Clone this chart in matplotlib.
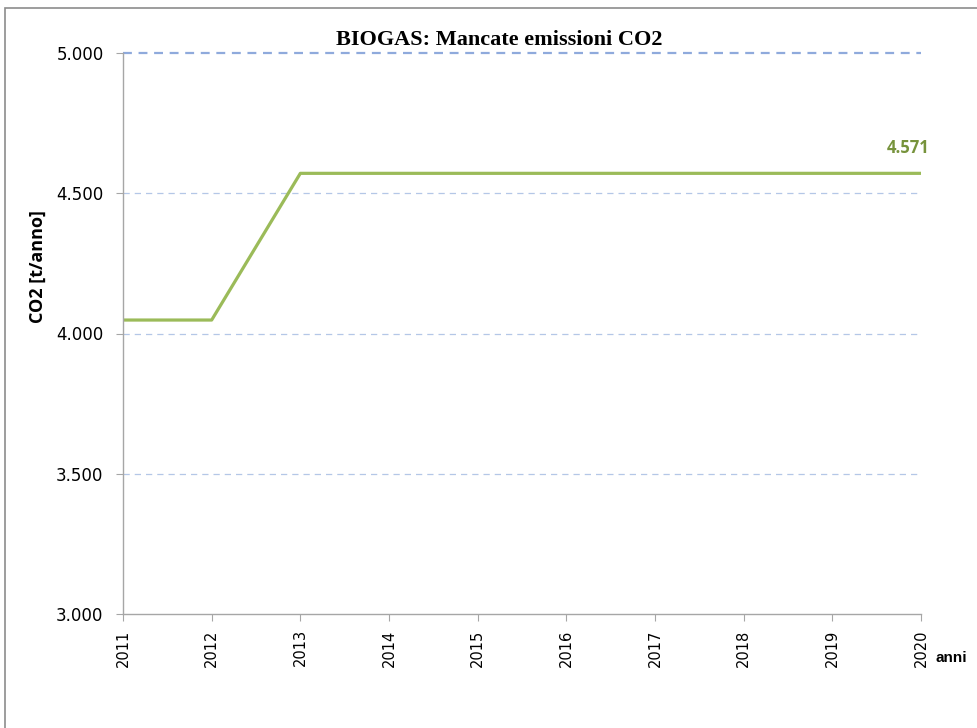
import matplotlib.pyplot as plt
from matplotlib.patches import Rectangle

# dati
anni = [2011, 2012, 2013, 2014, 2015, 2016, 2017, 2018, 2019, 2020]
co2 = [4048, 4048, 4571, 4571, 4571, 4571, 4571, 4571, 4571, 4571]
y_ticks = [3000, 3500, 4000, 4500, 5000]
y_labels = ["3.000", "3.500", "4.000", "4.500", "5.000"]

plt.rcParams['font.family'] = ['DejaVu Sans']

fig = plt.figure(figsize=(9.77, 7.28), dpi=100)

# cornice dell'area grafico
fig.patches.append(Rectangle((5 / 977, -0.1), 1.2, 1 - 8 / 728 + 0.1,
                             transform=fig.transFigure, fill=False,
                             edgecolor='#8c8c8c', linewidth=1.2))

ax = fig.add_axes([123 / 977, 1 - 614 / 728, 798 / 977, 561 / 728])

ax.plot(anni, co2, color='#9BBB59', linewidth=2.3, solid_capstyle='butt')
ax.annotate("4.571", (anni[-1], co2[-1]), xytext=(6, 12), textcoords='offset points',
            color='#77933C', fontsize=12, fontweight='bold', family='Open Sans',
            ha='right', va='bottom')

ax.set_xlim(anni[0], anni[-1])
ax.set_ylim(3000, 5000)
ax.set_xticks(anni)
ax.set_xticklabels([str(a) for a in anni], rotation=90, fontsize=10.5)
ax.set_yticks(y_ticks)
ax.set_yticklabels(y_labels, fontsize=12)

# griglia tratteggiata
for v in y_ticks[1:-1]:
    ax.axhline(v, color='#b4c7e7', linestyle=(0, (5, 4)), linewidth=0.9, zorder=0)
ax.axhline(5000, color='#8faadc', linestyle=(0, (4, 3)), linewidth=1.6, zorder=0,
           clip_on=False)

for s in ['top', 'right']:
    ax.spines[s].set_visible(False)
for s in ['left', 'bottom']:
    ax.spines[s].set_color('#a6a6a6')
    ax.spines[s].set_linewidth(1.0)
ax.tick_params(axis='y', color='#a6a6a6', length=5, direction='out', pad=9)
ax.tick_params(axis='x', color='#a6a6a6', length=5, direction='out', pad=6)

ax.set_ylabel("CO2 [t/anno]", fontsize=13, fontweight='bold', family='Open Sans')
ax.yaxis.set_label_coords(-0.095, 0.619)
fig.text(935 / 977, 1 - 658 / 728, "anni", fontsize=11, fontweight='bold',
         family='Liberation Sans', va='center', ha='left')

fig.text(499 / 977, 1 - 40 / 728, "BIOGAS: Mancate emissioni CO2", ha='center',
         va='center', fontsize=16, fontweight='bold', family='Liberation Serif')

fig.savefig('out.png', dpi=100)
